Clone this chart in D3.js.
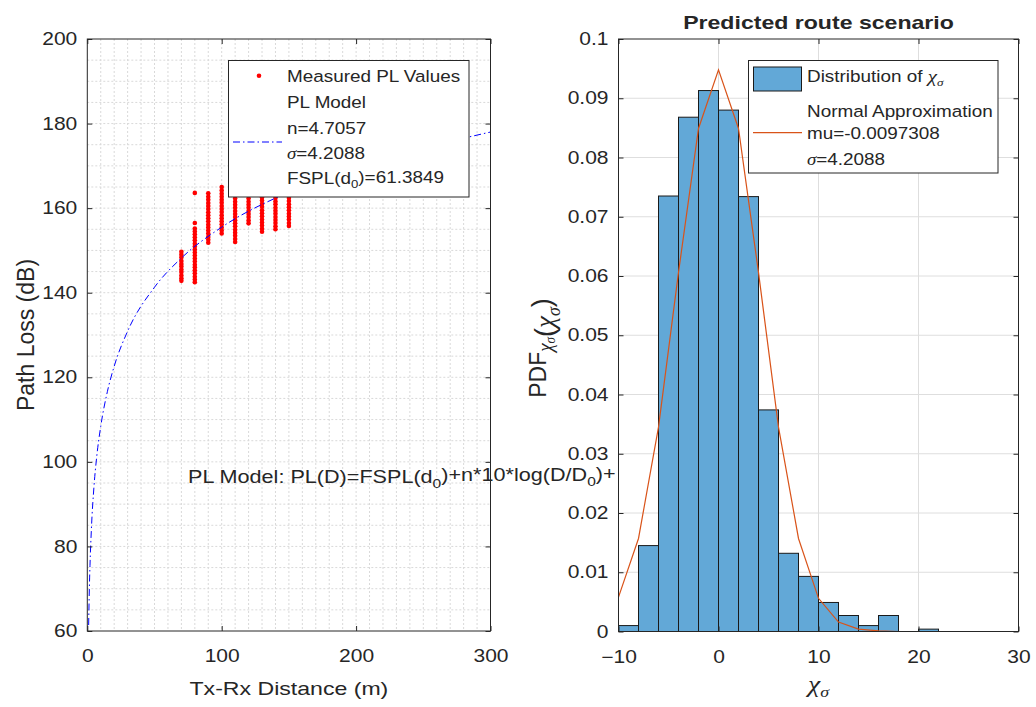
<!DOCTYPE html>
<html>
<head>
<meta charset="utf-8">
<script src="https://cdn.jsdelivr.net/npm/d3@7"></script>
<style>
  body { margin: 0; background: #fff; }
  text { font-family: "Liberation Sans", Arial, sans-serif; fill: #262626; }
  .tex { font-family: "Liberation Serif", "Times New Roman", serif; font-style: italic; }
</style>
</head>
<body>
<div id="chart"></div>
<script>
// ---- data ----
const distances = [70, 80, 90, 100, 110, 120, 130, 140, 150]
const plValues = [
  [142.8, 143.4, 144.1, 144.9, 145.5, 146.2, 146.8, 147.5, 148.3, 149.0, 149.7],
  [142.5, 143.1, 143.8, 144.6, 145.3, 146.0, 146.6, 147.4, 148.1, 148.8, 149.5, 150.2, 150.9, 151.6, 152.4, 153.1, 153.8, 154.5, 155.2, 156.5, 163.6],
  [151.8, 152.5, 153.2, 154.0, 154.7, 155.4, 156.1, 156.9, 157.6, 158.3, 159.0, 159.8, 160.5, 161.2, 162.0, 162.7, 163.5],
  [154.0, 154.7, 155.4, 156.2, 156.9, 157.6, 158.3, 159.1, 159.8, 160.5, 161.3, 162.0, 162.7, 163.4, 164.2, 165.0],
  [152.0, 152.7, 153.5, 154.2, 154.9, 155.7, 156.4, 157.1, 157.9, 158.6, 159.3, 160.1, 160.8, 161.5, 162.3, 163.0, 163.8],
  [156.4, 157.1, 157.9, 158.6, 159.3, 160.1, 160.8, 161.5, 162.3, 163.0, 163.8],
  [154.4, 155.1, 155.9, 156.6, 157.3, 158.1, 158.8, 159.5, 160.3, 161.0, 161.8, 162.5, 163.3],
  [155.0, 155.7, 156.5, 157.2, 157.9, 158.7, 159.4, 160.1, 160.9, 161.6, 162.4, 163.1],
  [155.8, 156.5, 157.3, 158.0, 158.7, 159.5, 160.2, 160.9, 161.7, 162.4, 163.2],
]
const modelDist = [1, 1.5, 2, 3, 5, 7, 10, 15, 20, 30, 50, 70, 100, 150, 200, 250, 300]
const modelPL = [61.4, 69.7, 75.5, 83.8, 94.3, 101.2, 108.4, 116.7, 122.6, 130.9, 141.3, 148.2, 155.5, 163.8, 169.7, 174.2, 178.0]

const binEdges = [-10, -8, -6, -4, -2, 0, 2, 4, 6, 8, 10, 12, 14, 16, 18, 20, 22]
const binPdf = [0.0010, 0.0145, 0.0735, 0.0868, 0.0913, 0.0880, 0.0734, 0.0374, 0.0132, 0.0093, 0.0049, 0.0027, 0.0010, 0.0027, 0, 0.0004]
const normX = [-10, -8, -6, -4, -2, 0, 2, 4, 6, 8, 10, 12, 14, 16, 18, 20, 22]
const normPdf = [0.0058, 0.0157, 0.0345, 0.0606, 0.0849, 0.0948, 0.0849, 0.0606, 0.0345, 0.0157, 0.0056, 0.0016, 0.0004, 0.0001, 0, 0, 0]

const leftXTicks = [0, 100, 200, 300]
const leftYTicks = [60, 80, 100, 120, 140, 160, 180, 200]
const rightXTicks = [-10, 0, 10, 20, 30]
const rightYTicks = [0, 0.01, 0.02, 0.03, 0.04, 0.05, 0.06, 0.07, 0.08, 0.09, 0.1]

// ---- layout ----
const width = 1036, height = 707
const SX = 1.2   // the source picture is stretched horizontally
const axisColor = "#262626"

const svg = d3.select("#chart").append("svg")
    .attr("width", width)
    .attr("height", height)

// helper for stretched text
function addText(g, x, y, size, opts = {}) {
    const sx = opts.sx || SX
    return g.append("text")
        .attr("transform", `translate(${x},${y}) scale(${sx},1)${opts.rotate ? " rotate(-90)" : ""}`)
        .attr("text-anchor", opts.anchor || "start")
        .style("font-size", size + "px")
        .style("font-weight", opts.bold ? "bold" : null)
}

function styleAxis(axisG, side) {
    axisG.select(".domain").remove()
    axisG.selectAll(".tick line").attr("stroke", axisColor)
    axisG.selectAll(".tick text").each(function () {
        const t = d3.select(this)
        const x = +t.attr("x") || 0
        const y = +t.attr("y") || 0
        t.attr("x", x / SX)
            .attr("transform", `scale(${SX},1)`)
            .style("font-size", "17.5px")
            .attr("fill", axisColor)
            .style("font-family", '"Liberation Sans", Arial, sans-serif')
        if (side === "bottom") t.attr("y", y + 9)
    })
}

// ===== left panel =====
const L = { left: 87.3, right: 490.5, top: 39, bottom: 631 }
const xL = d3.scaleLinear().domain([0, 300]).range([L.left, L.right])
const yL = d3.scaleLinear().domain([60, 200]).range([L.bottom, L.top])

const left = svg.append("g")

// dashed minor/major grid
left.append("g").selectAll("line")
    .data(d3.range(10, 300, 10))
    .join("line")
    .attr("x1", d => xL(d)).attr("x2", d => xL(d))
    .attr("y1", L.top).attr("y2", L.bottom)
    .attr("stroke", "#d9d9d9").attr("stroke-dasharray", "2,2")
left.append("g").selectAll("line")
    .data(d3.range(65, 200, 5))
    .join("line")
    .attr("y1", d => yL(d)).attr("y2", d => yL(d))
    .attr("x1", L.left).attr("x2", L.right)
    .attr("stroke", "#d9d9d9").attr("stroke-dasharray", "2,2")

// measured points
const points = []
distances.forEach((d, i) => plValues[i].forEach(v => points.push({ d, v })))
left.append("g").selectAll("circle")
    .data(points)
    .join("circle")
    .attr("cx", p => xL(p.d))
    .attr("cy", p => yL(p.v))
    .attr("r", 2.3)
    .attr("fill", "#ff0000")

// model curve
const modelLine = d3.line()
    .x((d, i) => xL(modelDist[i]))
    .y(d => yL(d))
    .curve(d3.curveMonotoneX)
left.append("path")
    .attr("d", modelLine(modelPL))
    .attr("fill", "none")
    .attr("stroke", "#0000ff")
    .attr("stroke-width", 1)
    .attr("stroke-dasharray", "7,3,1.5,3")

// axes
const xAxisL = left.append("g")
    .attr("transform", `translate(0,${L.bottom})`)
    .call(d3.axisBottom(xL).tickValues(leftXTicks).tickSizeInner(-5).tickSizeOuter(0).tickPadding(10))
styleAxis(xAxisL, "bottom")
const yAxisL = left.append("g")
    .attr("transform", `translate(${L.left},0)`)
    .call(d3.axisLeft(yL).tickValues(leftYTicks).tickSizeInner(-5).tickSizeOuter(0).tickPadding(10))
styleAxis(yAxisL, "left")
left.append("g")
    .attr("transform", `translate(0,${L.top})`)
    .call(d3.axisTop(xL).tickValues(leftXTicks).tickSizeInner(-5).tickSizeOuter(0).tickFormat(""))
    .call(g => g.select(".domain").remove())
    .selectAll("line").attr("stroke", axisColor)
left.append("g")
    .attr("transform", `translate(${L.right},0)`)
    .call(d3.axisRight(yL).tickValues(leftYTicks).tickSizeInner(-5).tickSizeOuter(0).tickFormat(""))
    .call(g => g.select(".domain").remove())
    .selectAll("line").attr("stroke", axisColor)

left.append("rect")
    .attr("x", L.left).attr("y", L.top)
    .attr("width", L.right - L.left).attr("height", L.bottom - L.top)
    .attr("fill", "none").attr("stroke", axisColor).attr("stroke-width", 1)

// axis labels
addText(left, (L.left + L.right) / 2, 695, 19.25, { anchor: "middle" }).text("Tx-Rx Distance (m)")
addText(left, 34, 335, 23, { anchor: "middle", rotate: true, sx: 1.05 }).text("Path Loss (dB)")

// legend
const legL = left.append("g")
legL.append("rect")
    .attr("x", 228.5).attr("y", 60.5).attr("width", 240.5).attr("height", 136.5)
    .attr("fill", "#fff").attr("stroke", axisColor).attr("stroke-width", 1)
legL.append("circle").attr("cx", 259).attr("cy", 75.7).attr("r", 2.3).attr("fill", "#ff0000")
legL.append("line")
    .attr("x1", 233).attr("x2", 282).attr("y1", 142).attr("y2", 142)
    .attr("stroke", "#0000ff").attr("stroke-dasharray", "7,3,1.5,3")
addText(legL, 287, 81.7, 15.75).text("Measured PL Values")
addText(legL, 287, 108.3, 15.75).text("PL Model")
addText(legL, 287, 134, 15.75).text("n=4.7057")
const sigL = addText(legL, 287, 159.3, 15.75)
sigL.append("tspan").attr("class", "tex").text("σ")
sigL.append("tspan").text("=4.2088")
const fspl = addText(legL, 287, 184.3, 15.75)
fspl.append("tspan").text("FSPL(d")
fspl.append("tspan").attr("dy", "0.35em").style("font-size", "11px").text("0")
fspl.append("tspan").attr("dy", "-0.35em").text(")=61.3849")

// model annotation (runs under the right panel)
const note = addText(left, 188, 483, 18)
note.append("tspan").text("PL Model: PL(D)=FSPL(d")
note.append("tspan").attr("dy", "0.35em").style("font-size", "13px").text("0")
note.append("tspan").attr("dy", "-0.35em").text(")+n*10*log(D/D")
note.append("tspan").attr("dy", "0.35em").style("font-size", "13px").text("0")
note.append("tspan").attr("dy", "-0.35em").text(")+")

// ===== right panel =====
const R = { left: 618.5, right: 1018.5, top: 39, bottom: 631.5 }
const xR = d3.scaleLinear().domain([-10, 30]).range([R.left, R.right])
const yR = d3.scaleLinear().domain([0, 0.1]).range([R.bottom, R.top])

const right = svg.append("g")
right.append("rect")
    .attr("x", R.left).attr("y", R.top)
    .attr("width", R.right - R.left).attr("height", R.bottom - R.top)
    .attr("fill", "#fff")

right.append("g").selectAll("line")
    .data(rightXTicks.slice(1, -1))
    .join("line")
    .attr("x1", d => xR(d)).attr("x2", d => xR(d))
    .attr("y1", R.top).attr("y2", R.bottom)
    .attr("stroke", "#dedede")
right.append("g").selectAll("line")
    .data(rightYTicks.slice(1, -1))
    .join("line")
    .attr("y1", d => yR(d)).attr("y2", d => yR(d))
    .attr("x1", R.left).attr("x2", R.right)
    .attr("stroke", "#dedede")

// histogram bars
right.append("g").selectAll("rect")
    .data(binPdf)
    .join("rect")
    .attr("x", (d, i) => xR(binEdges[i]))
    .attr("width", (d, i) => xR(binEdges[i + 1]) - xR(binEdges[i]))
    .attr("y", d => yR(d))
    .attr("height", d => yR(0) - yR(d))
    .attr("fill", "#62a8d7")
    .attr("stroke", "#1a1a1a")
    .attr("stroke-width", 1)

// normal approximation
const normLine = d3.line()
    .x((d, i) => xR(normX[i]))
    .y(d => yR(d))
right.append("path")
    .attr("d", normLine(normPdf))
    .attr("fill", "none")
    .attr("stroke", "#d95319")
    .attr("stroke-width", 1.2)

const xAxisR = right.append("g")
    .attr("transform", `translate(0,${R.bottom})`)
    .call(d3.axisBottom(xR).tickValues(rightXTicks).tickSizeInner(-5).tickSizeOuter(0).tickPadding(10))
styleAxis(xAxisR, "bottom")
const yAxisR = right.append("g")
    .attr("transform", `translate(${R.left},0)`)
    .call(d3.axisLeft(yR).tickValues(rightYTicks).tickSizeInner(-5).tickSizeOuter(0).tickPadding(10)
        .tickFormat(d => d3.format("~g")(d)))
styleAxis(yAxisR, "left")
right.append("g")
    .attr("transform", `translate(0,${R.top})`)
    .call(d3.axisTop(xR).tickValues(rightXTicks).tickSizeInner(-5).tickSizeOuter(0).tickFormat(""))
    .call(g => g.select(".domain").remove())
    .selectAll("line").attr("stroke", axisColor)
right.append("g")
    .attr("transform", `translate(${R.right},0)`)
    .call(d3.axisRight(yR).tickValues(rightYTicks).tickSizeInner(-5).tickSizeOuter(0).tickFormat(""))
    .call(g => g.select(".domain").remove())
    .selectAll("line").attr("stroke", axisColor)

right.append("rect")
    .attr("x", R.left).attr("y", R.top)
    .attr("width", R.right - R.left).attr("height", R.bottom - R.top)
    .attr("fill", "none").attr("stroke", axisColor).attr("stroke-width", 1)

// title and labels
addText(right, (R.left + R.right) / 2, 29, 19.25, { anchor: "middle", bold: true }).text("Predicted route scenario")
const xlabR = addText(right, (R.left + R.right) / 2, 692, 23, { anchor: "middle" })
xlabR.append("tspan").attr("class", "tex").text("χ")
xlabR.append("tspan").attr("class", "tex").attr("dy", "0.3em").style("font-size", "15px").text("σ")

const ylabR = addText(right, 546, 348, 23, { anchor: "middle", rotate: true, sx: 1.05 })
ylabR.append("tspan").text("PDF")
ylabR.append("tspan").attr("class", "tex").attr("dy", "0.3em").style("font-size", "19px").text("χ")
ylabR.append("tspan").attr("class", "tex").attr("dy", "0.25em").style("font-size", "13px").text("σ")
ylabR.append("tspan").attr("dy", "-0.55em").style("font-size", "0.1px").text(" ")
ylabR.append("tspan").attr("dy", "-0.05em").style("font-size", "27px").text(" (")
ylabR.append("tspan").attr("class", "tex").style("font-size", "27px").text("χ")
ylabR.append("tspan").attr("class", "tex").attr("dy", "0.3em").style("font-size", "18px").text("σ")
ylabR.append("tspan").attr("dy", "-0.3em").style("font-size", "27px").text(")")

// legend
const legR = right.append("g")
legR.append("rect")
    .attr("x", 748.5).attr("y", 60.5).attr("width", 249.5).attr("height", 112.5)
    .attr("fill", "#fff").attr("stroke", axisColor).attr("stroke-width", 1)
legR.append("rect")
    .attr("x", 753.5).attr("y", 67).attr("width", 48).attr("height", 24)
    .attr("fill", "#62a8d7").attr("stroke", "#1a1a1a")
legR.append("line")
    .attr("x1", 753).attr("x2", 802).attr("y1", 132.7).attr("y2", 132.7)
    .attr("stroke", "#d95319").attr("stroke-width", 1.2)
const distTxt = addText(legR, 807, 81.7, 15.75)
distTxt.append("tspan").text("Distribution of ")
distTxt.append("tspan").attr("class", "tex").style("font-size", "17.5px").text("χ")
distTxt.append("tspan").attr("class", "tex").attr("dy", "0.35em").style("font-size", "11px").text("σ")
addText(legR, 807, 116.7, 15.75).text("Normal Approximation")
addText(legR, 807, 139, 15.75).text("mu=-0.0097308")
const sigR = addText(legR, 807, 165, 15.75)
sigR.append("tspan").attr("class", "tex").text("σ")
sigR.append("tspan").text("=4.2088")
</script>
</body>
</html>
